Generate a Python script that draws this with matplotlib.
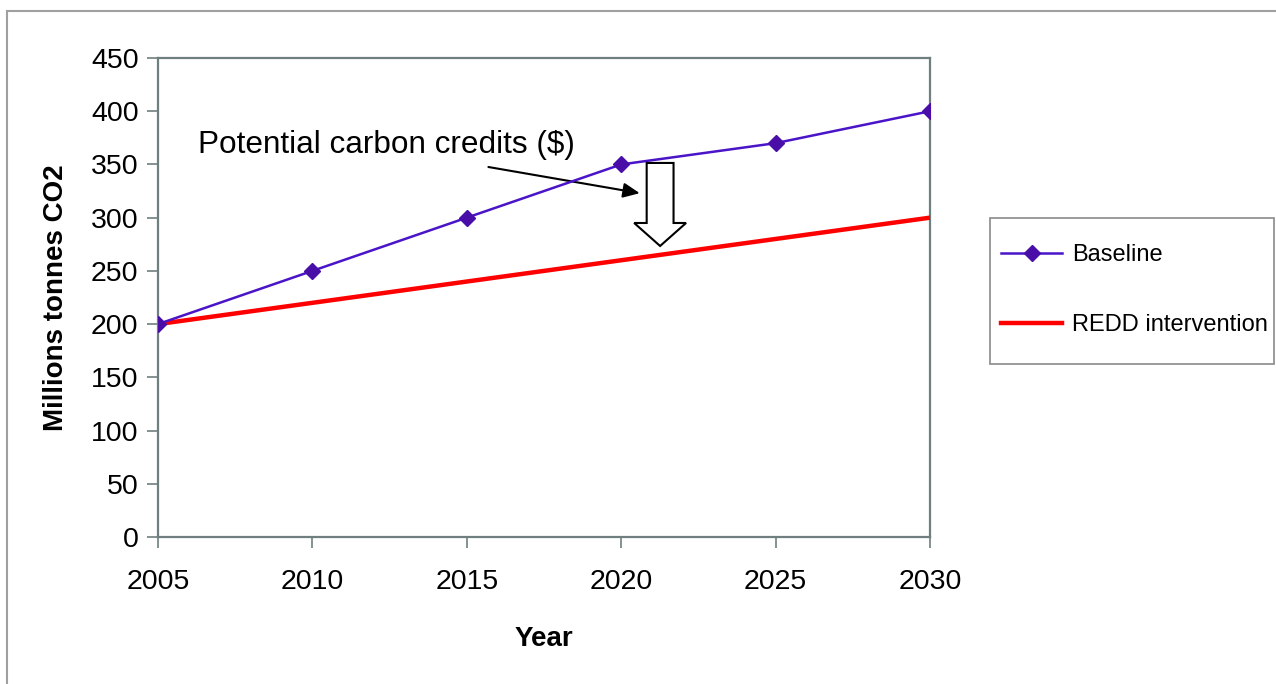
import matplotlib
matplotlib.use("Agg")
import matplotlib.pyplot as plt
from matplotlib.patches import FancyArrow, Rectangle
from matplotlib.lines import Line2D

plt.rcParams['font.family'] = ['Liberation Sans', 'DejaVu Sans']

years = [2005, 2010, 2015, 2020, 2025, 2030]
baseline = [200, 250, 300, 350, 370, 400]
redd_years = [2005, 2030]
redd = [200, 300]
yticks = [0, 50, 100, 150, 200, 250, 300, 350, 400, 450]

W, H = 1276, 684
fig = plt.figure(figsize=(W / 100, H / 100), dpi=100)
ax = fig.add_axes([158 / W, 1 - 537 / H, (930 - 158) / W, (537 - 58) / H])

spine_col = '#6f7f7f'
ax.plot(redd_years, redd, color='#ff0000', lw=3.2, label='REDD intervention', zorder=3)
ax.plot(years, baseline, color='#4a14c8', lw=1.8, marker='D', markersize=8,
        markerfacecolor='#4a0ea8', markeredgecolor='#4a0ea8', label='Baseline', zorder=4)

ax.set_xlim(2005, 2030)
ax.set_ylim(0, 450)
ax.set_xticks(years)
ax.set_yticks(yticks)
ax.tick_params(axis='both', direction='out', length=8, width=1.2, color=spine_col,
               labelsize=20.5, pad=6)
ax.tick_params(axis='x', pad=15)
for s in ax.spines.values():
    s.set_color(spine_col)
    s.set_linewidth(1.6)

ax.set_xlabel('Year', fontsize=20, fontweight='bold', labelpad=22)
ax.set_ylabel('Millions tonnes CO2', fontsize=20, fontweight='bold', labelpad=16)

ax.text(2006.3, 368, 'Potential carbon credits ($)', fontsize=22.7, va='center', ha='left')
ax.annotate('', xy=(2020.6, 323), xytext=(2015.7, 347.6),
            arrowprops=dict(arrowstyle='-|>,head_length=1.0,head_width=0.45',
                            color='black', lw=1.5, shrinkA=0, shrinkB=0))
arr = FancyArrow(2021.26, 351.4, 0, -78, width=0.87, head_width=1.68, head_length=21.6,
                 length_includes_head=True, facecolor='white', edgecolor='black',
                 lw=1.5, zorder=5)
ax.add_patch(arr)

# legend
h, l = ax.get_legend_handles_labels()
order = [1, 0]
leg = fig.legend([h[i] for i in order], [l[i] for i in order],
                 loc='upper left', bbox_to_anchor=(994 / W, 1 - 237 / H),
                 frameon=False, fontsize=17, handlelength=2.6, handletextpad=0.4,
                 labelspacing=2.05, borderaxespad=0, borderpad=0.3)
fig.add_artist(Rectangle((990 / W, 1 - 364 / H), (1274 - 990) / W, (364 - 218) / H,
                         transform=fig.transFigure, fill=False,
                         edgecolor='#8a8a8a', lw=1.2))

# outer border
fig.add_artist(Line2D([7 / W, 1.0], [1 - 11 / H, 1 - 11 / H], transform=fig.transFigure,
                      color='#a0a0a0', lw=1.5))
fig.add_artist(Line2D([7 / W, 7 / W], [0, 1 - 11 / H], transform=fig.transFigure,
                      color='#a0a0a0', lw=1.5))

fig.savefig('out.png', dpi=100)
